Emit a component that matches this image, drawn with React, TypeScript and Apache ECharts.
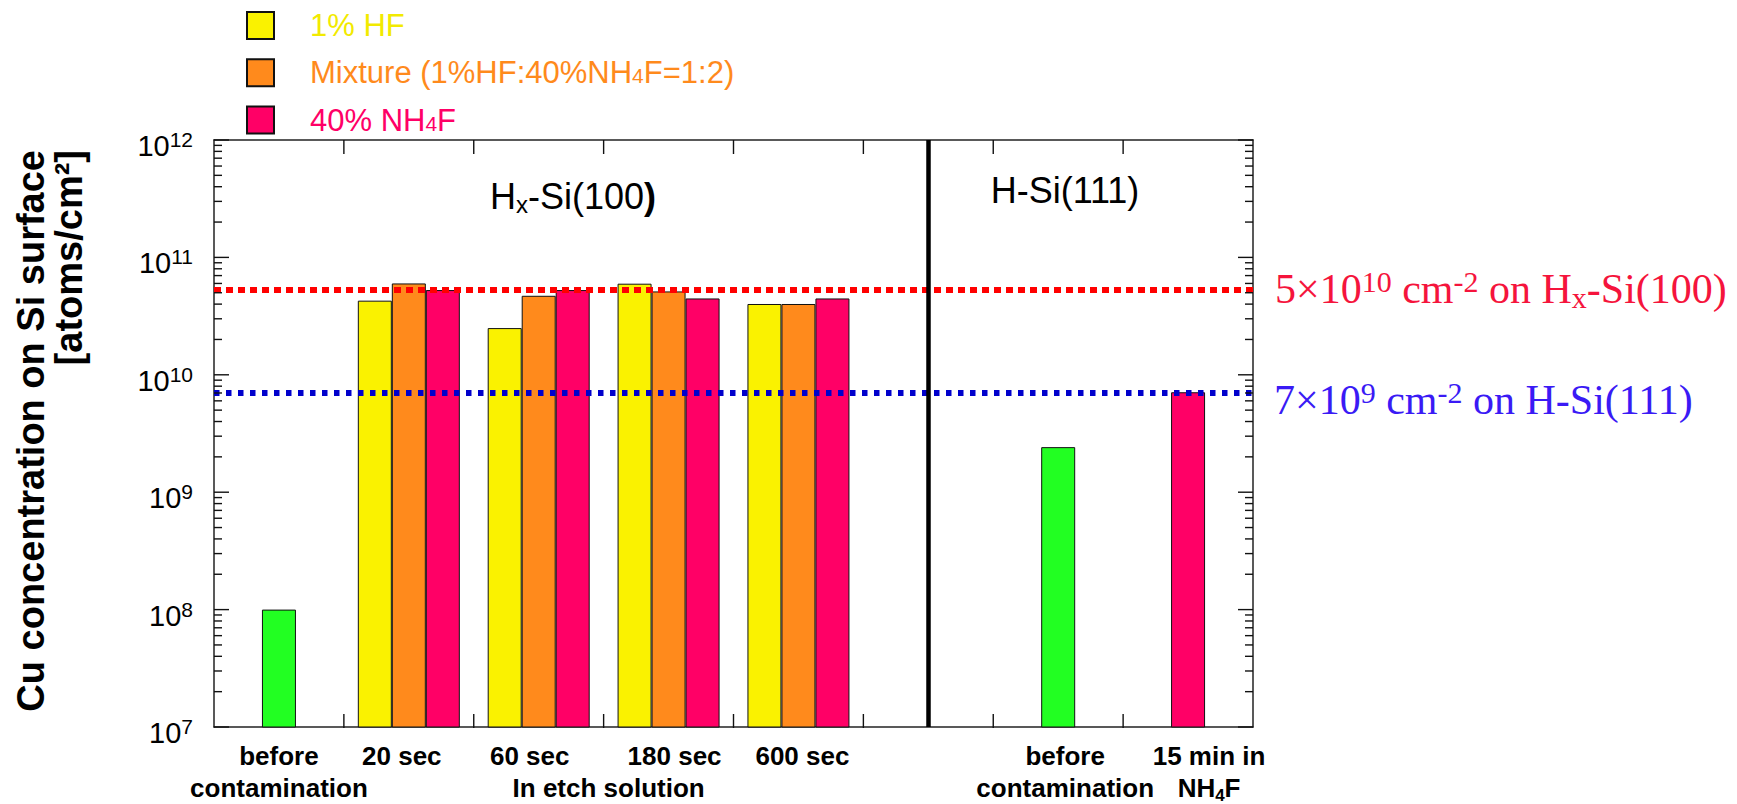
import React, { useEffect, useRef } from 'react';
import * as echarts from 'echarts';

// ---------- data ----------
const categories = [
  'before\ncontamination',
  '20 sec',
  '60 sec',
  '180 sec',
  '600 sec',
  '',
  'before\ncontamination',
  '15 min in\nNH4F',
];
const groupLabels = ['', '', '', 'In etch solution', '', '', '', '', ''];
const seriesNames = ['1% HF', 'Mixture (1%HF:40%NH4F=1:2)', '40% NH4F'];
const hfValues = [null, 4.28e10, 2.5e10, 5.97e10, 4.01e10, null, null, null];
const mixtureValues = [null, 6.0e10, 4.71e10, 5.13e10, 4.01e10, null, null, null];
const nh4fValues = [null, 5.27e10, 5.27e10, 4.47e10, 4.47e10, null, null, null];
const beforeValues = [1.0e8, null, null, null, null, null, 2.42e9, null];
const nh4f15minValues = [null, null, null, null, null, null, null, 7.1e9];
const limitHxSi100 = 5.35e10;
const limitHSi111 = 7.1e9;
const separatorIndex = 5;
const majorTickValues = [1e7, 1e8, 1e9, 1e10, 1e11, 1e12];
const decades = [1e7, 1e8, 1e9, 1e10, 1e11];
const minorMultipliers = [2, 3, 4, 5, 6, 7, 8, 9];
const minorTickValues = decades.flatMap((d) => minorMultipliers.map((m) => m * d));
const categoryBoundaryTicks = [1, 2, 3, 4, 5, 6, 7];

// ---------- styles ----------
const SANS = '"Liberation Sans", Arial, Helvetica, sans-serif';
const SERIF = '"Liberation Serif", "Times New Roman", serif';
const C_HF = '#FAF200';
const C_MIX = '#FF8A1C';
const C_NH4F = '#FF0066';
const C_BEFORE = '#22FF22';
const C_RED_TXT = '#F5143C';
const C_BLUE_TXT = '#3A1AF5';
// horizontal nudge (px) of each category label, layout only
const labelNudge = [0, -7, -9, 6, 4, 0, 7, 21];
const GRID = { left: 214, right: 484, top: 140, bottom: 76 };
const MAJOR_LEN = 15;
const MINOR_LEN = 8;
const X_TICK_LEN = 14;
const TICK_STYLE = { stroke: '#111', lineWidth: 1.4 };

export default function App() {
  const ref = useRef<HTMLDivElement>(null);

  useEffect(() => {
    if (!ref.current) return;
    const chart = echarts.init(ref.current, undefined, { renderer: 'svg' });

    const barBorder = { borderColor: '#111', borderWidth: 1 };
    const frameLine = { show: true, lineStyle: { color: '#222', width: 1.5 } };
    const xLabelStyle = {
      fontSize: 26,
      fontWeight: 'bold' as const,
      fontFamily: SANS,
      color: '#000',
      lineHeight: 32,
    };

    const catData = categories.map((c, i) => {
      const n = labelNudge[i];
      return {
        value: c,
        textStyle: { padding: n >= 0 ? [0, 0, 0, 2 * n] : [0, -2 * n, 0, 0] },
      };
    });

    const catAxisBase = {
      type: 'category' as const,
      gridIndex: 0,
      data: categories,
      boundaryGap: true,
      splitLine: { show: false },
    };

    const yLogBase = {
      type: 'log' as const,
      logBase: 10,
      min: 1e7,
      max: 1e12,
      gridIndex: 0,
      splitLine: { show: false },
      minorTick: { show: false },
    };

    const textGraphics: any[] = [
      {
        type: 'text',
        x: 50,
        y: 150,
        rotation: Math.PI / 2,
        style: {
          text: 'Cu concentration on Si surface\n[atoms/cm²]',
          fontSize: 38,
          fontWeight: 'bold',
          fontFamily: SANS,
          fill: '#000',
          lineHeight: 38,
          align: 'right',
          verticalAlign: 'middle',
        },
      },
      {
        type: 'text',
        x: 573,
        y: 196,
        style: {
          text: '{n|H}{sub|x}{n|-Si(100}{bd|)}',
          align: 'center',
          verticalAlign: 'middle',
          rich: {
            n: { fontSize: 36, fontFamily: SANS, fill: '#000', lineHeight: 40 },
            bd: { fontSize: 36, fontFamily: SANS, fontWeight: 'bold', fill: '#000', lineHeight: 40 },
            sub: { fontSize: 24, fontFamily: SANS, fill: '#000', lineHeight: 18, verticalAlign: 'bottom' },
          },
        },
      },
      {
        type: 'text',
        x: 1065,
        y: 190,
        style: {
          text: 'H-Si(111)',
          fontSize: 36,
          fontFamily: SANS,
          fill: '#000',
          align: 'center',
          verticalAlign: 'middle',
        },
      },
      {
        type: 'text',
        x: 1275,
        y: 289,
        style: {
          text: '{n|5×10}{sup|10}{n| cm}{sup|-2}{n| on H}{sub|x}{n|-Si(100)}',
          align: 'left',
          verticalAlign: 'middle',
          rich: {
            n: { fontSize: 42, fontFamily: SERIF, fill: C_RED_TXT, lineHeight: 46 },
            sup: { fontSize: 30, fontFamily: SERIF, fill: C_RED_TXT, lineHeight: 28, verticalAlign: 'top' },
            sub: { fontSize: 30, fontFamily: SERIF, fill: C_RED_TXT, lineHeight: 24, verticalAlign: 'bottom' },
          },
        },
      },
      {
        type: 'text',
        x: 1274,
        y: 400,
        style: {
          text: '{n|7×10}{sup|9}{n| cm}{sup|-2}{n| on H-Si(111)}',
          align: 'left',
          verticalAlign: 'middle',
          rich: {
            n: { fontSize: 42, fontFamily: SERIF, fill: C_BLUE_TXT, lineHeight: 46 },
            sup: { fontSize: 30, fontFamily: SERIF, fill: C_BLUE_TXT, lineHeight: 28, verticalAlign: 'top' },
          },
        },
      },
    ];

    const option: any = {
      animation: false,
      backgroundColor: '#fff',
      grid: { ...GRID, containLabel: false },
      legend: {
        orient: 'vertical',
        left: 246,
        top: 10,
        padding: 0,
        itemWidth: 27,
        itemHeight: 27,
        itemGap: 16.3,
        icon: 'rect',
        selectedMode: false,
        data: [
          { name: seriesNames[0], textStyle: { color: '#F2EA00' } },
          { name: seriesNames[1], textStyle: { color: C_MIX } },
          { name: seriesNames[2], textStyle: { color: C_NH4F } },
        ],
        formatter: (name: string) => name.replace('NH4F', 'NH{s|4}F'),
        textStyle: {
          fontSize: 31,
          fontFamily: SANS,
          lineHeight: 27,
          padding: [0, 0, 0, 31],
          rich: {
            s: { fontSize: 21, fontFamily: SANS, lineHeight: 10, verticalAlign: 'bottom' },
          },
        },
      },
      xAxis: [
        {
          ...catAxisBase,
          data: catData,
          position: 'bottom',
          axisLine: frameLine,
          axisTick: { show: false },
          axisLabel: {
            show: true,
            interval: 0,
            margin: 13,
            ...xLabelStyle,
            formatter: (v: string) => v.replace('NH4F', '{b|NH}{bs|4}{b|F}'),
            rich: {
              b: { ...xLabelStyle },
              bs: { fontSize: 17, fontWeight: 'bold', fontFamily: SANS, color: '#000', lineHeight: 14, verticalAlign: 'bottom' },
            },
          },
        },
        {
          type: 'category',
          gridIndex: 0,
          position: 'bottom',
          data: groupLabels,
          boundaryGap: false,
          axisLine: { show: false },
          axisTick: { show: false },
          splitLine: { show: false },
          axisLabel: { show: true, interval: 0, margin: 45, ...xLabelStyle, padding: [0, 0, 0, 10] },
        },
        {
          ...catAxisBase,
          position: 'bottom',
          show: false,
        },
        {
          ...catAxisBase,
          position: 'top',
          axisLine: frameLine,
          axisTick: { show: false },
          axisLabel: { show: false },
        },
      ],
      yAxis: [
        {
          ...yLogBase,
          position: 'left',
          axisLine: frameLine,
          axisTick: { show: false },
          axisLabel: {
            show: true,
            margin: 21,
            padding: [12, 0, 0, 0],
            customValues: majorTickValues,
            formatter: (v: number) => `{b|10}{s|${Math.round(Math.log10(v))}}`,
            rich: {
              b: { fontSize: 29, fontFamily: SANS, color: '#000', lineHeight: 34 },
              s: { fontSize: 21, fontFamily: SANS, color: '#000', lineHeight: 14, verticalAlign: 'top' },
            },
          },
        },
        {
          ...yLogBase,
          position: 'right',
          axisLine: frameLine,
          axisTick: { show: false },
          axisLabel: { show: false },
        },
      ],
      series: [
        {
          name: seriesNames[0],
          type: 'bar',
          xAxisIndex: 0,
          yAxisIndex: 0,
          data: hfValues,
          barWidth: 34,
          barGap: '0%',
          itemStyle: { color: C_HF, ...barBorder },
        },
        {
          name: seriesNames[1],
          type: 'bar',
          xAxisIndex: 0,
          yAxisIndex: 0,
          data: mixtureValues,
          barWidth: 34,
          barGap: '0%',
          itemStyle: { color: C_MIX, ...barBorder },
        },
        {
          name: seriesNames[2],
          type: 'bar',
          xAxisIndex: 0,
          yAxisIndex: 0,
          data: nh4fValues,
          barWidth: 34,
          barGap: '0%',
          itemStyle: { color: C_NH4F, ...barBorder },
        },
        {
          name: 'before contamination',
          type: 'bar',
          xAxisIndex: 2,
          yAxisIndex: 0,
          data: beforeValues,
          barWidth: 34,
          barGap: '-100%',
          itemStyle: { color: C_BEFORE, ...barBorder },
        },
        {
          name: '15 min in NH4F',
          type: 'bar',
          xAxisIndex: 2,
          yAxisIndex: 0,
          data: nh4f15minValues,
          barWidth: 34,
          barGap: '-100%',
          itemStyle: { color: C_NH4F, ...barBorder },
          markLine: {
            silent: true,
            symbol: ['none', 'none'],
            label: { show: false },
            emphasis: { disabled: true },
            data: [
              { yAxis: limitHxSi100, lineStyle: { color: '#FF0000', width: 6, type: [7, 5] } },
              { yAxis: limitHSi111, lineStyle: { color: '#0000CC', width: 6, type: [5.5, 6.5] } },
              { xAxis: separatorIndex, lineStyle: { color: '#000', width: 4.5, type: 'solid' } },
            ],
          },
        },
      ],
      graphic: textGraphics,
    };

    chart.setOption(option);

    // inward frame ticks, positioned through the chart's own axis scales
    const gx0 = GRID.left;
    const gx1 = chart.getWidth() - GRID.right;
    const gy0 = GRID.top;
    const gy1 = chart.getHeight() - GRID.bottom;
    const yPix = (v: number) => chart.convertToPixel({ yAxisIndex: 0 } as any, v) as unknown as number;
    const xPix = (i: number) => chart.convertToPixel({ xAxisIndex: 0 } as any, i) as unknown as number;
    const tickEls: any[] = [];
    const addY = (v: number, len: number) => {
      const y = yPix(v);
      if (!isFinite(y)) return;
      tickEls.push({ type: 'line', silent: true, z: 100, shape: { x1: gx0, y1: y, x2: gx0 + len, y2: y }, style: { ...TICK_STYLE } });
      tickEls.push({ type: 'line', silent: true, z: 100, shape: { x1: gx1 - len, y1: y, x2: gx1, y2: y }, style: { ...TICK_STYLE } });
    };
    majorTickValues.forEach((v) => addY(v, MAJOR_LEN));
    minorTickValues.forEach((v) => addY(v, MINOR_LEN));
    categoryBoundaryTicks.forEach((i) => {
      const x = (xPix(i) + xPix(i - 1)) / 2;
      if (!isFinite(x)) return;
      tickEls.push({ type: 'line', silent: true, z: 100, shape: { x1: x, y1: gy0, x2: x, y2: gy0 + X_TICK_LEN }, style: { ...TICK_STYLE } });
      tickEls.push({ type: 'line', silent: true, z: 100, shape: { x1: x, y1: gy1 - X_TICK_LEN, x2: x, y2: gy1 }, style: { ...TICK_STYLE } });
    });
    chart.setOption({ graphic: [...textGraphics, ...tickEls] });

    return () => {
      chart.dispose();
    };
  }, []);

  return (
    <div
      ref={ref}
      style={{ position: 'absolute', left: 0, top: 0, width: 1737, height: 804, background: '#fff' }}
    />
  );
}
